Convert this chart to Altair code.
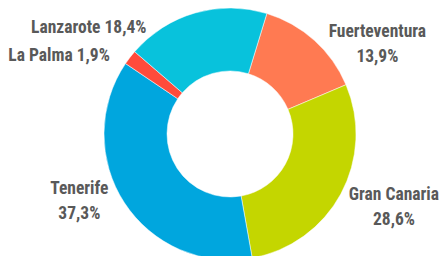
import altair as alt
import pandas as pd
import math

islands = ["Fuerteventura", "Gran Canaria", "Tenerife", "La Palma", "Lanzarote"]
shares = [13.9, 28.6, 37.3, 1.9, 18.4]
share_labels = ["13,9%", "28,6%", "37,3%", "1,9%", "18,4%"]
colors = ["#FF7A52", "#C4D600", "#00A6DE", "#FF4B3B", "#08C2DC"]

two_line = {"Fuerteventura", "Gran Canaria", "Tenerife"}
labels = [f"{n}\n{s}" if n in two_line else f"{n} {s}" for n, s in zip(islands, share_labels)]

df = pd.DataFrame({"island": islands, "share": shares, "label": labels, "idx": list(range(len(islands)))})

total = sum(shares)
start = math.radians(17)
theta_scale = alt.Scale(domain=[0, total], range=[start, start + 2 * math.pi])
color_scale = alt.Scale(domain=islands, range=colors)

cx, cy = 222, 126

arcs = alt.Chart(df).mark_arc(innerRadius=63, outerRadius=126, stroke="white", strokeWidth=0.5).encode(
    theta=alt.Theta("share:Q", stack=True, scale=theta_scale),
    color=alt.Color("island:N", scale=color_scale, legend=None),
    order=alt.Order("idx:Q"),
    x=alt.value(cx),
    y=alt.value(cy),
)

base_text = alt.Chart(df).transform_window(
    cum="sum(share)", sort=[alt.SortField("idx")]
).transform_calculate(mid="datum.cum - datum.share / 2")

# label style: (dx, dy, align)
label_style = {
    "Fuerteventura": (47, 9.5, "center"),
    "Gran Canaria": (32, -10.5, "center"),
    "Tenerife": (-25, -26.5, "center"),
    "La Palma": (-1, 13, "right"),
    "Lanzarote": (-42, 38, "right"),
}

layers = [arcs]
for name in islands:
    dx, dy, align = label_style[name]
    layers.append(
        base_text.transform_filter(alt.datum.island == name).mark_text(
            radius=150, dx=dx, dy=dy, align=align, baseline="middle",
            font="'Roboto Condensed', 'DejaVu Sans Condensed', 'Liberation Sans Narrow', 'Noto Sans Condensed', Lato",
            fontSize=17.5, fontWeight="bold",
            color="#595959", lineBreak="\n", lineHeight=25,
        ).encode(
            theta=alt.Theta("mid:Q", stack=None, scale=theta_scale),
            text="label:N",
            x=alt.value(cx),
            y=alt.value(cy),
        )
    )

chart = alt.layer(*layers).properties(
    width=431, height=248, padding=0, autosize="none"
).configure_view(stroke=None)

chart.save("out.html", embed_options={"renderer": "svg", "actions": False})
